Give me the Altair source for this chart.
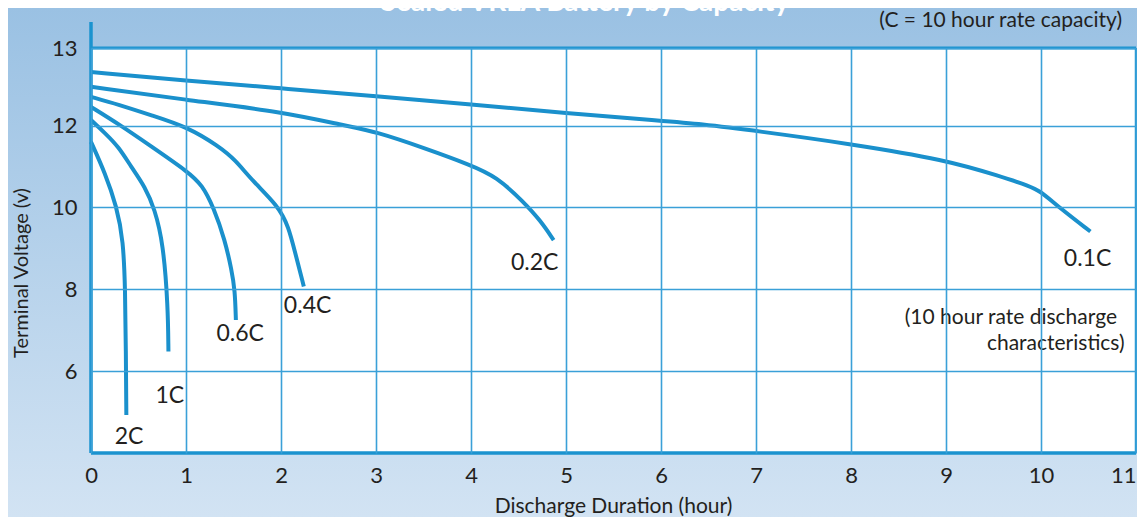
import altair as alt
import pandas as pd

# ---- data ----
hours_01 = [0, 1, 2, 3, 4, 5, 6, 6.41, 7, 8, 9, 9.57, 9.88, 10, 10.2, 10.52]
volts_01 = [12.69, 12.58, 12.48, 12.38, 12.27, 12.16, 12.06, 12.02, 11.87, 11.55, 11.16, 10.76, 10.52, 10.39, 9.98, 9.41]

hours_02 = [0, 1, 2, 2.67, 3, 3.52, 3.99, 4.27, 4.55, 4.73, 4.87]
volts_02 = [12.5, 12.33, 12.18, 12.0, 11.85, 11.44, 11.04, 10.75, 10.14, 9.68, 9.2]

hours_04 = [0, 0.29, 0.64, 1.02, 1.34, 1.52, 1.69, 1.97, 2.08, 2.15, 2.24]
volts_04 = [12.37, 12.27, 12.13, 11.96, 11.5, 11.16, 10.67, 10.04, 9.53, 8.88, 8.07]

hours_06 = [0, 0.29, 0.64, 1.02, 1.17, 1.29, 1.41, 1.48, 1.515, 1.525]
volts_06 = [12.24, 12.02, 11.48, 10.87, 10.55, 10.0, 9.2, 8.47, 7.98, 7.25]

hours_1 = [0, 0.15, 0.29, 0.42, 0.57, 0.67, 0.76, 0.81, 0.815]
volts_1 = [12.07, 11.81, 11.48, 11.0, 10.5, 9.96, 9.13, 7.58, 6.48]

hours_2 = [0, 0.15, 0.27, 0.34, 0.36, 0.367, 0.372]
volts_2 = [11.6, 10.83, 10.02, 9.2, 7.98, 6.5, 4.93]

rate_names = ["0.1C", "0.2C", "0.4C", "0.6C", "1C", "2C"]
label_hours = [10.49, 4.67, 2.28, 1.57, 0.83, 0.40]
label_volts = [8.74, 8.65, 7.60, 6.90, 5.40, 4.40]

note_lines = ["(10 hour rate discharge", "characteristics)"]
note_hours = [10.80, 10.88]
note_volts = [7.30, 6.66]

x_ticks = list(range(0, 12))
y_ticks = [6, 8, 10, 12, 13]

title_text = "Sealed VRLA Battery by Capacity"
subtitle_text = "(C = 10 hour rate capacity)"
x_title = "Discharge Duration (hour)"
y_title = "Terminal Voltage (v)"

# ---- build tables ----
series = [hours_01, hours_02, hours_04, hours_06, hours_1, hours_2]
series_v = [volts_01, volts_02, volts_04, volts_06, volts_1, volts_2]
rows = []
for name, xs, ys in zip(rate_names, series, series_v):
    for i, (h, v) in enumerate(zip(xs, ys)):
        rows.append({"rate": name, "hour": h, "volt": v, "i": i})
curves = pd.DataFrame(rows)
labels = pd.DataFrame({"rate": rate_names, "hour": label_hours, "volt": label_volts})
notes = pd.DataFrame({"txt": note_lines, "hour": note_hours, "volt": note_volts})

W, H = 1045, 405
LINE = "#1a90cc"
GRID = "#3aa0d8"
TXT = "#231f20"
FONT = "Lato"

xscale = alt.Scale(domain=[0, 11], nice=False, zero=False)
yscale = alt.Scale(domain=[4, 12, 13], range=[H, 77.5, 0], nice=False, zero=False)

xaxis = alt.Axis(values=x_ticks, grid=True, gridColor=GRID, gridWidth=1.6,
                 domain=False, ticks=False, labelFont=FONT, labelFontSize=22,
                 labelColor=TXT, labelPadding=12, title=None, zindex=1,
                 labelFlush=False,
                 labelAlign=alt.expr("datum.value == 11 ? 'right' : 'center'"))
yaxis = alt.Axis(values=y_ticks, grid=True, gridColor=GRID, gridWidth=1.6,
                 domain=False, ticks=False, labelFont=FONT, labelFontSize=22,
                 labelColor=TXT, labelPadding=14, title=None, zindex=1,
                 labelFlush=False)

one = alt.Data(values=[{"k": 1}])

grad = alt.Gradient(
    gradient="linear",
    stops=[alt.GradientStop(color="#9ac1e3", offset=0),
           alt.GradientStop(color="#d2e3f3", offset=1)],
    x1=0, x2=0, y1=0, y2=1,
)
bg = alt.Chart(one).mark_rect(fill=grad, strokeWidth=0).encode(
    x=alt.value(-83), x2=alt.value(W + 1), y=alt.value(-40), y2=alt.value(H + 64)
)
plotbg = alt.Chart(one).mark_rect(fill="white", strokeWidth=0).encode(
    x=alt.value(0), x2=alt.value(W), y=alt.value(0), y2=alt.value(H)
)

lines = alt.Chart(curves).mark_line(
    color=LINE, strokeWidth=4, interpolate="basis", strokeCap="butt"
).encode(
    x=alt.X("hour:Q", scale=xscale, axis=xaxis),
    y=alt.Y("volt:Q", scale=yscale, axis=yaxis),
    detail="rate:N",
    order="i:Q",
)

curve_labels = alt.Chart(labels).mark_text(
    font=FONT, fontSize=23, color=TXT, align="center", baseline="middle"
).encode(
    x=alt.X("hour:Q", scale=xscale, axis=xaxis),
    y=alt.Y("volt:Q", scale=yscale, axis=yaxis),
    text="rate:N",
)

note_text = alt.Chart(notes).mark_text(
    font=FONT, fontSize=21, color=TXT, align="right", baseline="middle"
).encode(
    x=alt.X("hour:Q", scale=xscale, axis=xaxis),
    y=alt.Y("volt:Q", scale=yscale, axis=yaxis),
    text="txt:N",
)

left_rule = alt.Chart(one).mark_rule(color="#1b93cf", strokeWidth=3.5).encode(
    x=alt.value(0), y=alt.value(-26), y2=alt.value(H))
bottom_rule = alt.Chart(one).mark_rule(color="#1b93cf", strokeWidth=3.5).encode(
    x=alt.value(0), x2=alt.value(W), y=alt.value(H))
top_rule = alt.Chart(one).mark_rule(color="#1b93cf", strokeWidth=3).encode(
    x=alt.value(0), x2=alt.value(W), y=alt.value(0))
right_rule = alt.Chart(one).mark_rule(color="#2a9ad5", strokeWidth=2.5).encode(
    x=alt.value(W), y=alt.value(0), y2=alt.value(H))

title = alt.Chart(one).mark_text(
    text=title_text, font=FONT, fontSize=28, fontWeight="bold", color="white",
    align="center", baseline="alphabetic"
).encode(x=alt.value(494), y=alt.value(-37))

subtitle = alt.Chart(one).mark_text(
    text=subtitle_text, font=FONT, fontSize=21, color=TXT, align="right", baseline="middle"
).encode(x=alt.value(1031), y=alt.value(-27))

xt = alt.Chart(one).mark_text(
    text=x_title, font=FONT, fontSize=21, color=TXT, align="center", baseline="middle"
).encode(x=alt.value(W / 2), y=alt.value(459))

yt = alt.Chart(one).mark_text(
    text=y_title, font=FONT, fontSize=20, color=TXT, align="center", baseline="middle",
    angle=270
).encode(x=alt.value(-69), y=alt.value(225))

chart = alt.layer(
    bg, plotbg, lines, curve_labels, note_text,
    left_rule, bottom_rule, top_rule, right_rule,
    title, subtitle, xt, yt,
).properties(
    width=W, height=H,
    autosize=alt.AutoSizeParams(type="none"),
    padding={"left": 83, "top": 40, "right": 1, "bottom": 64},
    background="#c0d7ee",
).configure_view(stroke=None)

chart.save("out.html", embed_options={"renderer": "svg", "actions": False})
